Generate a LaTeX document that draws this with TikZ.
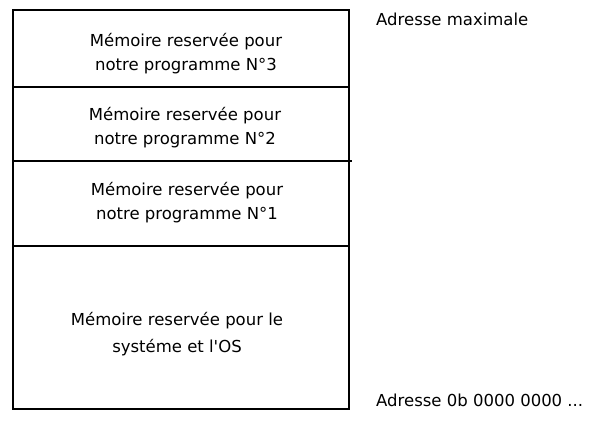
\documentclass[tikz,border=0pt]{standalone}
\usepackage{fontspec}
\setmainfont{DejaVu Sans}[Ligatures=TeXOff]
\begin{document}
\begin{tikzpicture}[x=1pt,y=-1pt,
  frame/.style={draw=black, line width=1.7pt},
  label/.style={font=\fontsize{16.5}{24}\selectfont, align=center, inner sep=0pt},
  side/.style={font=\fontsize{16.5}{24}\selectfont, anchor=west, inner sep=0pt}]
\useasboundingbox (0,0) rectangle (592,422);
% memory column
\draw[frame] (13,10) rectangle (349,409);
\draw[frame] (13,87) -- (349,87);
\draw[frame] (13,161) -- (352,161);
\draw[frame] (13,246) -- (349,246);
% block labels
\node[label] (p3) at (186,54) {Mémoire reservée pour\\notre programme N°3};
\node[label] (p2) at (185,128) {Mémoire reservée pour\\notre programme N°2};
\node[label] (p1) at (187,203) {Mémoire reservée pour\\notre programme N°1};
\node[label, font=\fontsize{16.5}{27}\selectfont] (os) at (177,334) {Mémoire reservée pour le\\systéme et l'OS};
% addresses
\node[side] (top) at (376,19) {Adresse maximale};
\node[side] (bot) at (376,400) {Adresse 0b 0000 0000 ...};
\end{tikzpicture}
\end{document}
